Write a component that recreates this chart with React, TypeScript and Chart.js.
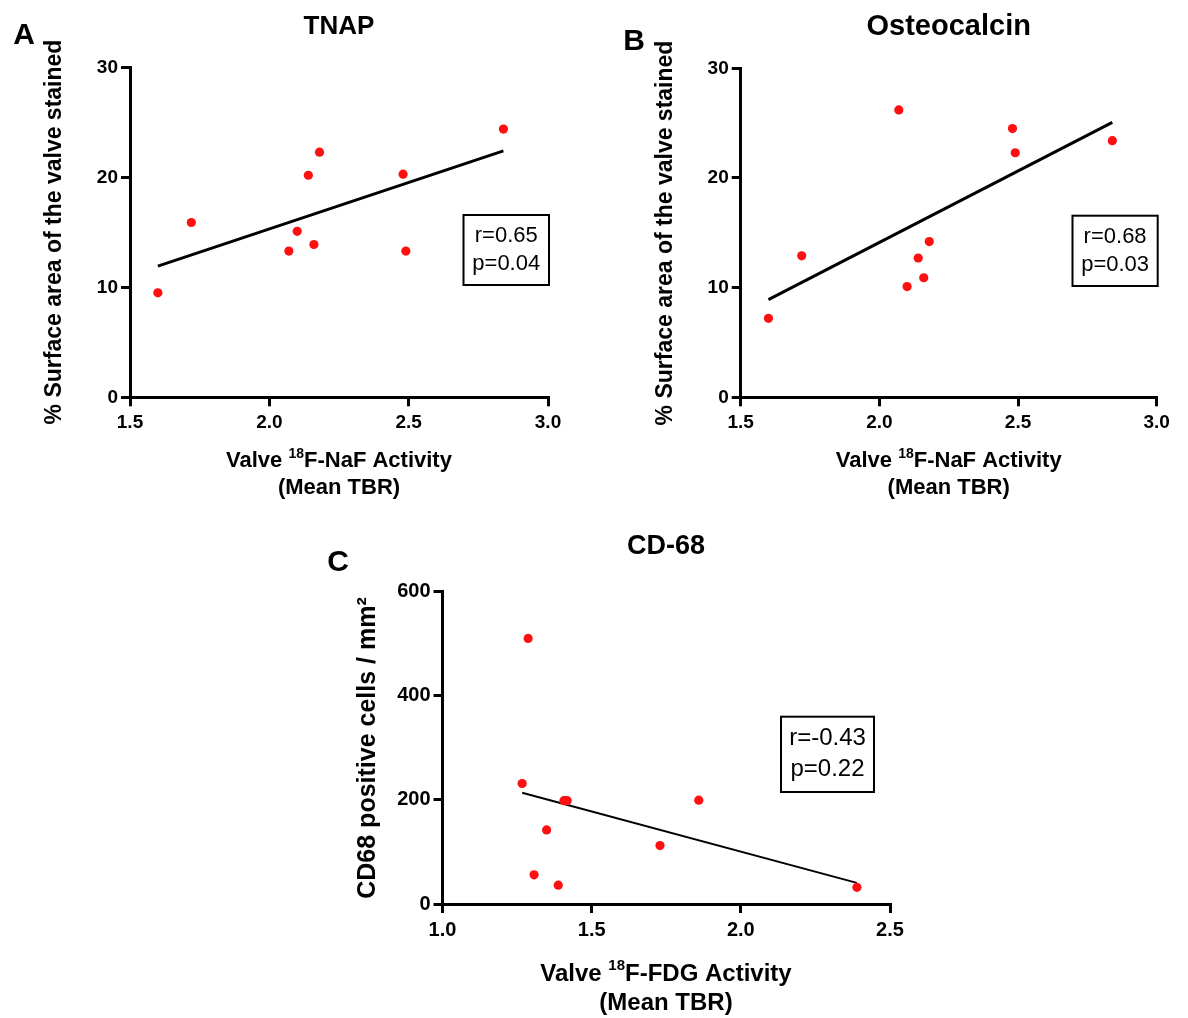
import React, { useEffect, useRef } from "react";
import { Chart, registerables } from "chart.js";

Chart.register(...registerables);

// ---------- DATA ----------
// Panel A: TNAP vs valve 18F-NaF activity
const tnapX = [1.6, 1.72, 2.07, 2.1, 2.14, 2.16, 2.18, 2.48, 2.49, 2.84];
const tnapY = [9.5, 15.9, 13.3, 15.1, 20.2, 13.9, 22.3, 20.3, 13.3, 24.4];
const tnapStats = ["r=0.65", "p=0.04"];

// Panel B: Osteocalcin vs valve 18F-NaF activity
const osteoX = [1.6, 1.72, 2.07, 2.1, 2.14, 2.16, 2.18, 2.48, 2.49, 2.84];
const osteoY = [7.2, 12.9, 26.2, 10.1, 12.7, 10.9, 14.2, 24.5, 22.3, 23.4];
const osteoStats = ["r=0.68", "p=0.03"];

// Panel C: CD68 vs valve 18F-FDG activity
const cd68X = [1.287, 1.267, 1.407, 1.418, 1.349, 1.307, 1.388, 1.729, 1.859, 2.389];
const cd68Y = [509, 231, 198, 198, 142, 56, 36, 112, 199, 32];
const cd68Stats = ["r=-0.43", "p=0.22"];

// Tick values
const xTicksAB = [1.5, 2.0, 2.5, 3.0];
const yTicksAB = [0, 10, 20, 30];
const xTicksC = [1.0, 1.5, 2.0, 2.5];
const yTicksC = [0, 200, 400, 600];

// Text
const titleA = "TNAP";
const titleB = "Osteocalcin";
const titleC = "CD-68";
const yTitleAB = "% Surface area of the valve stained";
const yTitleC = "CD68 positive cells / mm²";
const xTitleAB = [{ t: "Valve " }, { t: "18", sup: true }, { t: "F-NaF Activity" }];
const xTitleC = [{ t: "Valve " }, { t: "18", sup: true }, { t: "F-FDG Activity" }];
const xTitle2 = "(Mean TBR)";

const FONT = "'Liberation Sans', Arial, Helvetica, sans-serif";

// least-squares fit line across the data range
function fitLine(xs: number[], ys: number[]) {
  const n = xs.length;
  const mx = xs.reduce((a, b) => a + b, 0) / n;
  const my = ys.reduce((a, b) => a + b, 0) / n;
  let sxy = 0;
  let sxx = 0;
  for (let i = 0; i < n; i++) {
    sxy += (xs[i] - mx) * (ys[i] - my);
    sxx += (xs[i] - mx) * (xs[i] - mx);
  }
  const b = sxy / sxx;
  const a = my - b * mx;
  const x0 = Math.min(...xs);
  const x1 = Math.max(...xs);
  return [
    { x: x0, y: a + b * x0 },
    { x: x1, y: a + b * x1 },
  ];
}

type Part = { t: string; sup?: boolean };
type TextItem = {
  x: number;
  y: number;
  parts: Part[];
  size: number;
  weight?: string;
  rotate?: boolean;
};

function drawRich(ctx: CanvasRenderingContext2D, item: TextItem, ox: number, oy: number) {
  const w = item.weight || "bold";
  const big = `${w} ${item.size}px ${FONT}`;
  const small = `${w} ${Math.round(item.size * 0.62)}px ${FONT}`;
  let total = 0;
  const widths = item.parts.map((p) => {
    ctx.font = p.sup ? small : big;
    const m = ctx.measureText(p.t).width;
    total += m;
    return m;
  });
  ctx.save();
  ctx.translate(item.x - ox, item.y - oy);
  if (item.rotate) ctx.rotate(-Math.PI / 2);
  ctx.fillStyle = "#000";
  ctx.textBaseline = "middle";
  ctx.textAlign = "left";
  let cx = -total / 2;
  item.parts.forEach((p, i) => {
    ctx.font = p.sup ? small : big;
    ctx.fillText(p.t, cx, p.sup ? -item.size * 0.33 : 0);
    cx += widths[i];
  });
  ctx.restore();
}

const overlayPlugin = {
  id: "overlay",
  afterDraw(chart: any, _args: any, opts: any) {
    const ctx: CanvasRenderingContext2D = chart.ctx;
    const ox = opts.ox || 0;
    const oy = opts.oy || 0;
    (opts.texts || []).forEach((t: TextItem) => drawRich(ctx, t, ox, oy));
    const box = opts.box;
    if (box) {
      ctx.save();
      ctx.strokeStyle = "#000";
      ctx.lineWidth = 2;
      ctx.strokeRect(box.x0 - ox, box.y0 - oy, box.x1 - box.x0, box.y1 - box.y0);
      ctx.fillStyle = "#000";
      ctx.font = `normal ${box.size}px ${FONT}`;
      ctx.textAlign = "center";
      ctx.textBaseline = "middle";
      const cx = (box.x0 + box.x1) / 2 - ox;
      const cy = (box.y0 + box.y1) / 2 - oy;
      const n = box.lines.length;
      box.lines.forEach((l: string, i: number) => {
        ctx.fillText(l, cx, cy + (i - (n - 1) / 2) * box.gap);
      });
      ctx.restore();
    }
  },
};

type PanelCfg = {
  left: number;
  top: number;
  w: number;
  h: number;
  area: { l: number; t: number; r: number; b: number };
  xs: number[];
  ys: number[];
  xTicks: number[];
  yTicks: number[];
  xDecimals: number;
  tickSize: number;
  lineWidth: number;
  texts: TextItem[];
  box: any;
};

const X_AXIS_H = 40;

function Panel({ cfg }: { cfg: PanelCfg }) {
  const ref = useRef<HTMLCanvasElement>(null);
  useEffect(() => {
    const { area } = cfg;
    const yW = area.l - cfg.left;
    const tickFont = { family: FONT, size: cfg.tickSize, weight: "bold" as const };
    const gridCfg = {
      drawOnChartArea: false,
      drawTicks: true,
      tickLength: 9,
      lineWidth: 3,
      color: "#000",
    };
    const chart = new Chart(ref.current!, {
      type: "scatter",
      data: {
        datasets: [
          {
            data: cfg.xs.map((x, i) => ({ x, y: cfg.ys[i] })),
            pointRadius: 4.6,
            pointBackgroundColor: "rgb(255,16,16)",
            pointBorderWidth: 0,
            showLine: false,
          },
          {
            data: fitLine(cfg.xs, cfg.ys),
            showLine: true,
            borderColor: "#000",
            borderWidth: cfg.lineWidth,
            pointRadius: 0,
            fill: false,
          },
        ],
      },
      options: {
        responsive: false,
        animation: false,
        devicePixelRatio: 1,
        layout: {
          padding: {
            left: 0,
            top: area.t - cfg.top,
            right: cfg.left + cfg.w - area.r,
            bottom: cfg.top + cfg.h - area.b - X_AXIS_H,
          },
        },
        plugins: {
          legend: { display: false },
          tooltip: { enabled: false },
          title: { display: false },
          overlay: { ox: cfg.left, oy: cfg.top, texts: cfg.texts, box: cfg.box },
        } as any,
        scales: {
          x: {
            type: "linear",
            min: cfg.xTicks[0],
            max: cfg.xTicks[cfg.xTicks.length - 1],
            afterBuildTicks: (s: any) => {
              s.ticks = cfg.xTicks.map((v) => ({ value: v }));
            },
            afterFit: (s: any) => {
              s.height = X_AXIS_H;
            },
            ticks: {
              font: tickFont,
              color: "#000",
              padding: 5,
              maxRotation: 0,
              autoSkip: false,
              callback: (v: any) => Number(v).toFixed(cfg.xDecimals),
            },
            grid: gridCfg,
            border: { display: true, width: 3, color: "#000" },
          },
          y: {
            type: "linear",
            min: cfg.yTicks[0],
            max: cfg.yTicks[cfg.yTicks.length - 1],
            afterBuildTicks: (s: any) => {
              s.ticks = cfg.yTicks.map((v) => ({ value: v }));
            },
            afterFit: (s: any) => {
              s.width = yW;
            },
            ticks: {
              font: tickFont,
              color: "#000",
              padding: 3,
              autoSkip: false,
              callback: (v: any) => String(v),
            },
            grid: gridCfg,
            border: { display: true, width: 3, color: "#000" },
          },
        },
      },
      plugins: [overlayPlugin],
    });
    return () => chart.destroy();
  }, []);
  return (
    <canvas
      ref={ref}
      width={cfg.w}
      height={cfg.h}
      style={{ position: "absolute", left: cfg.left, top: cfg.top, width: cfg.w, height: cfg.h }}
    />
  );
}

const panelA: PanelCfg = {
  left: 0,
  top: 0,
  w: 595,
  h: 510,
  area: { l: 130, t: 67.5, r: 548, b: 397.3 },
  xs: tnapX,
  ys: tnapY,
  xTicks: xTicksAB,
  yTicks: yTicksAB,
  xDecimals: 1,
  tickSize: 19,
  lineWidth: 3,
  texts: [
    { x: 24, y: 36, parts: [{ t: "A" }], size: 30 },
    { x: 339, y: 27, parts: [{ t: titleA }], size: 26 },
    { x: 55, y: 232, parts: [{ t: yTitleAB }], size: 23, rotate: true },
    { x: 339, y: 461, parts: xTitleAB, size: 22 },
    { x: 339, y: 488, parts: [{ t: xTitle2 }], size: 22 },
  ],
  box: { x0: 463.5, y0: 215, x1: 549, y1: 285, lines: tnapStats, size: 22, gap: 27.5 },
};

const panelB: PanelCfg = {
  left: 595,
  top: 0,
  w: 593,
  h: 510,
  area: { l: 740.7, t: 68.3, r: 1156.7, b: 397.3 },
  xs: osteoX,
  ys: osteoY,
  xTicks: xTicksAB,
  yTicks: yTicksAB,
  xDecimals: 1,
  tickSize: 19,
  lineWidth: 3,
  texts: [
    { x: 634, y: 42, parts: [{ t: "B" }], size: 30 },
    { x: 948.7, y: 27, parts: [{ t: titleB }], size: 29 },
    { x: 665.5, y: 233, parts: [{ t: yTitleAB }], size: 23, rotate: true },
    { x: 948.7, y: 461, parts: xTitleAB, size: 22 },
    { x: 948.7, y: 488, parts: [{ t: xTitle2 }], size: 22 },
  ],
  box: { x0: 1072.5, y0: 215.7, x1: 1157.7, y1: 286, lines: osteoStats, size: 22, gap: 27.5 },
};

const panelC: PanelCfg = {
  left: 300,
  top: 520,
  w: 620,
  h: 498,
  area: { l: 442.5, t: 591, r: 890, b: 904 },
  xs: cd68X,
  ys: cd68Y,
  xTicks: xTicksC,
  yTicks: yTicksC,
  xDecimals: 1,
  tickSize: 20,
  lineWidth: 2,
  texts: [
    { x: 338, y: 563, parts: [{ t: "C" }], size: 30 },
    { x: 666, y: 547, parts: [{ t: titleC }], size: 27 },
    { x: 368, y: 748, parts: [{ t: yTitleC }], size: 25, rotate: true },
    { x: 666, y: 974, parts: xTitleC, size: 24 },
    { x: 666, y: 1003, parts: [{ t: xTitle2 }], size: 24 },
  ],
  box: { x0: 781, y0: 716.7, x1: 874, y1: 792, lines: cd68Stats, size: 24, gap: 31 },
};

export default function App() {
  return (
    <div
      style={{
        position: "absolute",
        left: 0,
        top: 0,
        width: 1188,
        height: 1018,
        background: "#fff",
        overflow: "hidden",
      }}
    >
      <Panel cfg={panelA} />
      <Panel cfg={panelB} />
      <Panel cfg={panelC} />
    </div>
  );
}
